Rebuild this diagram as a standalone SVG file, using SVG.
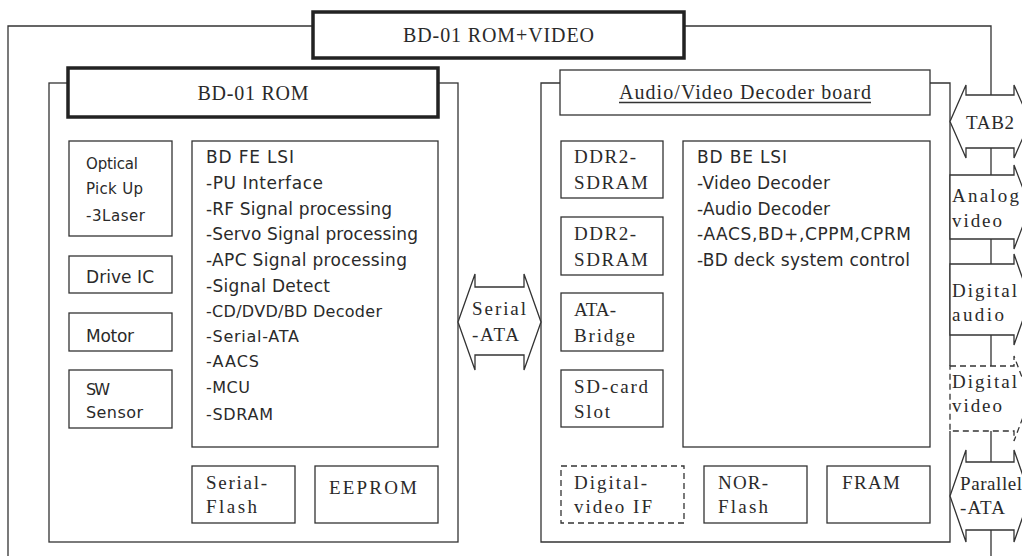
<svg xmlns="http://www.w3.org/2000/svg" width="1022" height="556" viewBox="0 0 1022 556">
  <style>
    .ln{fill:none;stroke:#333;stroke-width:1.3}
    .bx{fill:#fff;stroke:#333;stroke-width:1.3}
    .thick{fill:#fff;stroke:#222;stroke-width:3.5}
    .dash{stroke-dasharray:6 4}
    .sr{font-family:"Liberation Serif",serif;font-size:19px;fill:#2a2a2a}
    .ss{font-family:"DejaVu Sans",sans-serif;font-size:17px;fill:#2a2a2a}
    .sm{font-size:16px}
    .s15{font-size:15px}
    .mid{text-anchor:middle}
  </style>
  <rect width="1022" height="556" fill="#fff"/>

  <!-- enclosing frame and signal bus on the right -->
  <g id="connectors">
    <path class="ln" d="M8 556 V26 H991 V556"/>
    <!-- board outlines -->
    <rect class="ln" x="49" y="83" width="409" height="459"/>
    <path class="ln" d="M950 366 V83 H541 V542 H950 V431"/>

    <!-- Serial-ATA link between the two boards -->
    <g id="serial-ata-link">
      <path class="bx" d="M475 287 H524 V274 L541 322 L524 370 V355 H475 V370 L458 322 L475 274 Z"/>
      <text class="sr" x="472" y="315" textLength="54">Serial</text>
      <text class="sr" x="472" y="341" textLength="47">-ATA</text>
    </g>

    <!-- external ports -->
    <g id="port-tab2">
      <path class="bx" d="M966 95 H1014 V85 L1030 121.5 L1014 158 V148 H966 V158 L950 121.5 L966 85 Z"/>
      <text class="sr" x="966" y="129" textLength="48">TAB2</text>
    </g>
    <g id="port-analog-video">
      <path class="bx" d="M950 175 H1014 V165 L1030 207 L1014 249 V239 H950 Z"/>
      <text class="sr" x="952" y="202" textLength="67">Analog</text>
      <text class="sr" x="952" y="227" textLength="50">video</text>
    </g>
    <g id="port-digital-audio">
      <path class="bx" d="M950 264 H1014 V254 L1030 299.5 L1014 345 V335 H950 Z"/>
      <text class="sr" x="952" y="297" textLength="65">Digital</text>
      <text class="sr" x="952" y="321" textLength="52">audio</text>
    </g>
    <g id="port-digital-video">
      <path class="bx dash" d="M950 366 H1014 V356 L1030 398.5 L1014 441 V431 H950 Z"/>
      <text class="sr" x="952" y="388" textLength="65">Digital</text>
      <text class="sr" x="952" y="412" textLength="50">video</text>
    </g>
    <g id="port-parallel-ata">
      <path class="bx" d="M966 462 H1014 V450 L1030 496 L1014 542 V530 H966 V542 L950 496 L966 450 Z"/>
      <text class="sr" x="960" y="490" textLength="62">Parallel</text>
      <text class="sr" x="960" y="514" textLength="45">-ATA</text>
    </g>
  </g>

  <!-- overall title -->
  <g id="title">
    <rect class="thick" x="313" y="12" width="371" height="46"/>
    <text class="sr mid" x="498.5" y="42" style="font-size:20px" textLength="191">BD-01 ROM+VIDEO</text>
  </g>

  <!-- drive board -->
  <g id="rom-header">
    <rect class="thick" x="68" y="68" width="370" height="49"/>
    <text class="sr mid" x="253" y="100" style="font-size:20px" textLength="111">BD-01 ROM</text>
  </g>
  <g id="optical-pickup">
    <rect class="bx" x="69" y="141" width="103" height="95"/>
    <text class="ss s15" x="86" y="169" textLength="52">Optical</text>
    <text class="ss s15" x="86" y="194" textLength="57">Pick Up</text>
    <text class="ss s15" x="86" y="221" textLength="59">-3Laser</text>
  </g>
  <g id="drive-ic">
    <rect class="bx" x="69" y="256" width="103" height="37"/>
    <text class="ss" x="86" y="283" textLength="68">Drive IC</text>
  </g>
  <g id="motor">
    <rect class="bx" x="69" y="313" width="103" height="38"/>
    <text class="ss" x="86" y="342" textLength="48">Motor</text>
  </g>
  <g id="sw-sensor">
    <rect class="bx" x="69" y="370" width="103" height="58"/>
    <text class="ss sm" x="86" y="395" textLength="24">SW</text>
    <text class="ss sm" x="86" y="418" textLength="57">Sensor</text>
  </g>
  <g id="fe-lsi">
    <rect class="bx" x="192" y="141" width="246" height="306"/>
    <text class="ss" x="206" y="163" textLength="88">BD FE LSI</text>
    <text class="ss" x="206" y="189" textLength="117">-PU Interface</text>
    <text class="ss" x="206" y="215" textLength="186">-RF Signal processing</text>
    <text class="ss" x="206" y="240" textLength="212">-Servo Signal processing</text>
    <text class="ss" x="206" y="266" textLength="201">-APC Signal processing</text>
    <text class="ss" x="206" y="292" textLength="124">-Signal Detect</text>
    <text class="ss sm" x="206" y="317" textLength="176">-CD/DVD/BD Decoder</text>
    <text class="ss sm" x="206" y="342" textLength="93">-Serial-ATA</text>
    <text class="ss sm" x="206" y="367" textLength="53">-AACS</text>
    <text class="ss sm" x="206" y="393" textLength="44">-MCU</text>
    <text class="ss sm" x="206" y="420" textLength="67">-SDRAM</text>
  </g>
  <g id="serial-flash">
    <rect class="bx" x="192" y="466" width="103" height="57"/>
    <text class="sr" x="206" y="489" textLength="61">Serial-</text>
    <text class="sr" x="206" y="513" textLength="51">Flash</text>
  </g>
  <g id="eeprom">
    <rect class="bx" x="315" y="466" width="123" height="57"/>
    <text class="sr" x="329" y="494" textLength="88">EEPROM</text>
  </g>

  <!-- decoder board -->
  <g id="av-header">
    <rect class="bx" x="560" y="70" width="370" height="45"/>
    <text class="sr mid" x="745" y="99" style="font-size:20px" textLength="252">Audio/Video Decoder board</text>
    <line class="ln" x1="619" y1="102.5" x2="871" y2="102.5"/>
  </g>
  <g id="ddr2-sdram-1">
    <rect class="bx" x="561" y="141" width="102" height="57"/>
    <text class="sr" x="574" y="163" textLength="62">DDR2-</text>
    <text class="sr" x="574" y="189" textLength="74">SDRAM</text>
  </g>
  <g id="ddr2-sdram-2">
    <rect class="bx" x="561" y="217" width="102" height="58"/>
    <text class="sr" x="574" y="240" textLength="62">DDR2-</text>
    <text class="sr" x="574" y="266" textLength="74">SDRAM</text>
  </g>
  <g id="ata-bridge">
    <rect class="bx" x="561" y="293" width="102" height="58"/>
    <text class="sr" x="574" y="316" textLength="42">ATA-</text>
    <text class="sr" x="574" y="342" textLength="61">Bridge</text>
  </g>
  <g id="sd-card-slot">
    <rect class="bx" x="561" y="370" width="102" height="57"/>
    <text class="sr" x="574" y="393" textLength="74">SD-card</text>
    <text class="sr" x="574" y="418" textLength="36">Slot</text>
  </g>
  <g id="be-lsi">
    <rect class="bx" x="683" y="141" width="247" height="306"/>
    <text class="ss" x="697" y="163" textLength="90">BD BE LSI</text>
    <text class="ss" x="697" y="189" textLength="133">-Video Decoder</text>
    <text class="ss" x="697" y="214.5" textLength="133">-Audio Decoder</text>
    <text class="ss" x="697" y="240" textLength="214">-AACS,BD+,CPPM,CPRM</text>
    <text class="ss" x="697" y="266" textLength="213">-BD deck system control</text>
  </g>
  <g id="digital-video-if">
    <rect class="bx dash" x="561" y="466" width="123" height="57"/>
    <text class="sr" x="574" y="489" textLength="73">Digital-</text>
    <text class="sr" x="574" y="513" textLength="78">video IF</text>
  </g>
  <g id="nor-flash">
    <rect class="bx" x="704" y="466" width="103" height="57"/>
    <text class="sr" x="718" y="489" textLength="50">NOR-</text>
    <text class="sr" x="718" y="513" textLength="50">Flash</text>
  </g>
  <g id="fram">
    <rect class="bx" x="827" y="466" width="103" height="57"/>
    <text class="sr" x="842" y="489" textLength="58">FRAM</text>
  </g>
</svg>
